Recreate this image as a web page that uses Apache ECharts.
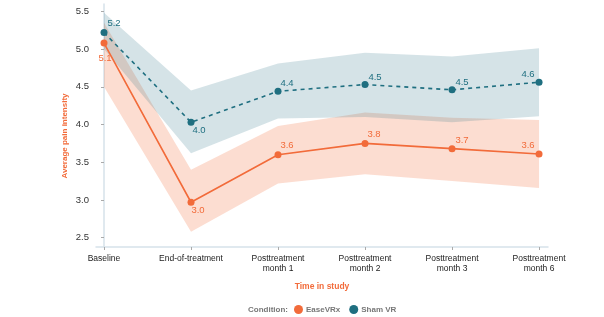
<!DOCTYPE html>
<html><head><meta charset="utf-8">
<script src="https://cdn.jsdelivr.net/npm/echarts@6/dist/echarts.min.js"></script>
<style>html,body{margin:0;padding:0;background:#fff}#c{width:604px;height:317px}</style>
</head><body><div id="c"></div>
<script>
const categories = ['Baseline', 'End-of-treatment', 'Posttreatment\nmonth 1', 'Posttreatment\nmonth 2', 'Posttreatment\nmonth 3', 'Posttreatment\nmonth 6'];
const easeMean = [5.08, 2.97, 3.60, 3.75, 3.68, 3.61];
const easeLabels = ['5.1', '3.0', '3.6', '3.8', '3.7', '3.6'];
const easeUpper = [5.35, 3.40, 3.98, 4.16, 4.09, 4.06];
const easeLower = [4.50, 2.58, 3.22, 3.34, 3.25, 3.16];
const shamMean = [5.22, 4.03, 4.44, 4.53, 4.46, 4.56];
const shamLabels = ['5.2', '4.0', '4.4', '4.5', '4.5', '4.6'];
const shamUpper = [5.48, 4.45, 4.81, 4.95, 4.90, 5.01];
const shamLower = [5.00, 3.62, 4.08, 4.10, 4.03, 4.11];
const yTicks = [2.5, 3.0, 3.5, 4.0, 4.5, 5.0, 5.5];

const ORANGE = '#f26b3a', TEAL = '#1f6f80';
const FONT = '"Liberation Sans", Arial, sans-serif';
const easeOff = [[1,15],[7,8],[9,-9],[9,-9],[10,-8],[-11,-9]];
const shamOff = [[10,-9],[8,8],[9,-8],[10,-7],[10,-7],[-11,-8]];

function band(upper, lower, color) {
  return {
    type: 'custom', silent: true, z: 1,
    data: [0],
    renderItem: function (params, api) {
      const pts = [];
      for (let i = 0; i < upper.length; i++) pts.push(api.coord([i, upper[i]]));
      for (let i = lower.length - 1; i >= 0; i--) pts.push(api.coord([i, lower[i]]));
      return { type: 'polygon', shape: { points: pts }, style: { fill: color } };
    }
  };
}
function line(name, vals, labels, offs, color, dashed) {
  return {
    name: name, type: 'line', z: 5,
    data: vals.map((v, i) => ({
      value: [i, v],
      label: { show: true, position: 'inside', offset: offs[i], formatter: labels[i] }
    })),
    symbol: 'circle', symbolSize: 7,
    itemStyle: { color: color },
    lineStyle: { color: color, width: 1.6, type: dashed ? [4, 4] : 'solid' },
    label: { color: color, fontSize: 9.5, fontFamily: FONT },
    emphasis: { disabled: true }
  };
}

const chart = echarts.init(document.getElementById('c'), null, { renderer: 'canvas' });
chart.setOption({
  animation: false,
  grid: { left: 96, right: 56, top: 4, bottom: 70 },
  xAxis: {
    type: 'value', min: -0.092, max: 5.103,
    name: 'Time in study', nameLocation: 'middle', nameGap: 35,
    nameTextStyle: { color: ORANGE, fontSize: 8.5, fontWeight: 'bold', fontFamily: FONT },
    axisLine: { show: true, lineStyle: { color: '#d6e2ea', width: 1.5 } },
    axisTick: { show: true, length: 3, lineStyle: { color: '#aaa' }, customValues: categories.map((c, i) => i) },
    axisLabel: { customValues: categories.map((c, i) => i), formatter: v => categories[Math.round(v)] || '',
      color: '#222', fontSize: 8.5, fontFamily: FONT, margin: 7, lineHeight: 10 },
    splitLine: { show: false }
  },
  yAxis: {
    type: 'value', min: 2.377, max: 5.597,
    axisLine: { show: true, lineStyle: { color: '#d6e2ea', width: 1.5 } },
    axisTick: { show: true, length: 3, lineStyle: { color: '#aaa' }, customValues: yTicks },
    axisLabel: { customValues: yTicks, formatter: v => v.toFixed(1), color: '#333', fontSize: 9.5, fontFamily: FONT, margin: 7 },
    splitLine: { show: false }
  },
  legend: {
    top: 305, left: 294, padding: 0, itemWidth: 9, itemHeight: 9, itemGap: 9, icon: 'circle',
    data: ['EaseVRx', 'Sham VR'],
    textStyle: { color: '#777', fontSize: 8, fontWeight: 'bold', fontFamily: FONT, padding: [0, 0, 0, -2] }
  },
  graphic: [
    { type: 'text', x: 248, y: 309.5, style: { text: 'Condition:', fill: '#777', font: 'bold 8px ' + FONT, verticalAlign: 'middle' } },
    { type: 'text', x: 65, y: 136, rotation: Math.PI / 2, style: { text: 'Average pain intensity', fill: ORANGE, font: 'bold 8px ' + FONT, align: 'center', verticalAlign: 'middle' } }
  ],
  series: [
    band(easeUpper, easeLower, 'rgba(242,107,58,0.23)'),
    band(shamUpper, shamLower, 'rgba(43,117,133,0.2)'),
    line('EaseVRx', easeMean, easeLabels, easeOff, ORANGE, false),
    line('Sham VR', shamMean, shamLabels, shamOff, TEAL, true)
  ]
});
</script></body></html>
